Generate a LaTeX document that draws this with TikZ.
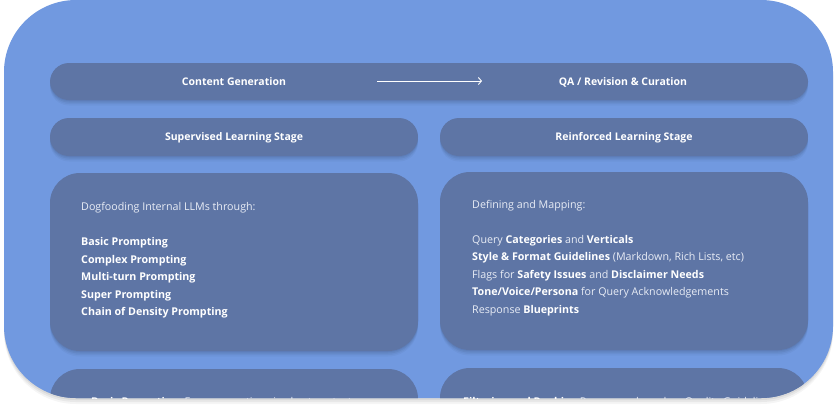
\documentclass[tikz,border=0pt]{standalone}
\usepackage{fontspec}
\setmainfont{Open Sans}
\usetikzlibrary{arrows.meta}
\definecolor{panelblue}{RGB}{113,153,224}
\definecolor{boxblue}{RGB}{94,117,165}
\definecolor{softwhite}{RGB}{232,236,245}
\tikzset{
  softshadow/.style={
    preaction={fill=black,opacity=0.05,transform canvas={yshift=-1pt}},
    preaction={fill=black,opacity=0.05,transform canvas={yshift=-2.5pt}},
    preaction={fill=black,opacity=0.04,transform canvas={yshift=-4pt}},
    preaction={fill=black,opacity=0.03,transform canvas={yshift=-5.5pt}}},
  barbox/.style={fill=boxblue,rounded corners=19pt,softshadow},
  bigbox/.style={fill=boxblue,rounded corners=30pt,softshadow},
  bartext/.style={text=white,font=\fontsize{10.5}{12}\selectfont\bfseries,inner sep=0pt},
  bodytext/.style={text=softwhite,font=\fontsize{10.7}{17.5}\selectfont,align=left,inner sep=0pt,anchor=north west},
}
\newcommand{\hb}[1]{\textcolor{white}{\bfseries #1}}
\begin{document}
\begin{tikzpicture}[x=1pt,y=-1pt]
\useasboundingbox (0,0) rectangle (837,408);
\fill[white] (0,0) rectangle (837,408);
% outer panel
\fill[panelblue,rounded corners=72pt,
  preaction={fill=black,opacity=0.06,transform canvas={yshift=-2pt}},
  preaction={fill=black,opacity=0.05,transform canvas={yshift=-4pt}},
  preaction={fill=black,opacity=0.04,transform canvas={yshift=-6pt}}] (4,0) rectangle (833,398);
% top bar
\path[barbox] (50,63) rectangle (808,100);
\node[bartext] (cg) at (234,82) {Content Generation};
\node[bartext] (qa) at (623,82) {QA / Revision \& Curation};
\coordinate (a1) at (377,81);
\coordinate (a2) at (482,81);
\draw[white,line width=0.9pt,-{Straight Barb[length=3pt,width=7pt]}] (a1) -- (a2);
% stage bars
\path[barbox] (50,118) rectangle (418,156);
\path[barbox] (440,118) rectangle (808,156);
\node[bartext] (sl) at (234,138) {Supervised Learning Stage};
\node[bartext] (rl) at (624,138) {Reinforced Learning Stage};
% content boxes
\path[bigbox] (50,173) rectangle (418,351);
\path[bigbox] (440,172) rectangle (808,350);
\node[bodytext] (lt) at (81,202.5) {Dogfooding Internal LLMs through:\\
\strut\\
\hb{Basic Prompting}\\
\hb{Complex Prompting}\\
\hb{Multi-turn Prompting}\\
\hb{Super Prompting}\\
\hb{Chain of Density Prompting}};
\node[bodytext] (rt) at (472,200) {Defining and Mapping:\\
\strut\\
Query \hb{Categories} and \hb{Verticals}\\
\hb{Style \& Format Guidelines} (Markdown, Rich Lists, etc)\\
Flags for \hb{Safety Issues} and \hb{Disclaimer Needs}\\
\hb{Tone/Voice/Persona} for Query Acknowledgements\\
Response \hb{Blueprints}};
% bottom boxes, clipped
\begin{scope}
\clip[rounded corners=72pt] (4,0) rectangle (833,398);
\path[bigbox] (50,369) rectangle (418,520);
\path[bigbox] (440,368) rectangle (808,520);
\node[bodytext,anchor=base west] (lb) at (91,405) {\hb{Basic Prompting:} Ensure questions in short context};
\node[bodytext,anchor=base west] (rb) at (463,405) {\hb{Filtering and Ranking} Responses based on Quality Guidelines};
\end{scope}
\end{tikzpicture}
\end{document}
